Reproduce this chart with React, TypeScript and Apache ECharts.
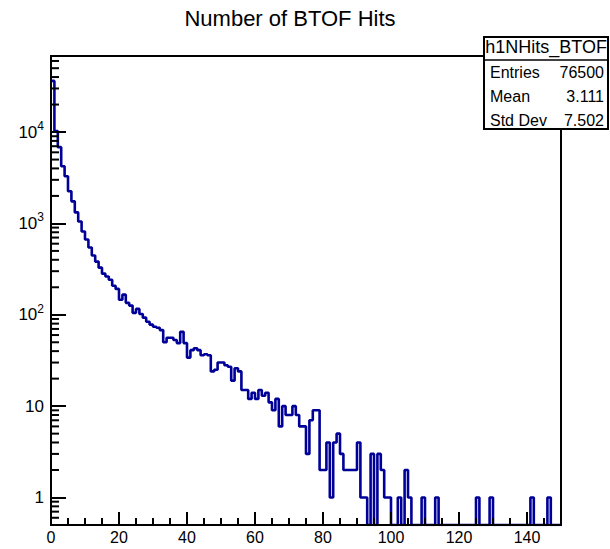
import React, { useEffect, useRef } from 'react';
import * as echarts from 'echarts';

const TITLE = 'Number of BTOF Hits';
const HIST_NAME = 'h1NHits_BTOF';
const STATS_LABELS = ['Entries', 'Mean', 'Std Dev'];
const STATS_VALUES = ['76500', '3.111', '7.502'];

const X_MIN = 0;
const X_MAX = 150;
const BIN_WIDTH = 1;
const Y_MIN = 0.5;
const Y_MAX = 68000;
const X_TICK_STEP = 20;
const X_MINOR_STEP = 5;
const Y_MINOR_BELOW_ONE = [0.6, 0.7, 0.8, 0.9];
const Y_MINOR_FACTORS = [2, 3, 4, 5, 6, 7, 8, 9];
const Y_DECADES = [1, 10, 100, 1000, 10000];

// counts per bin (bin i covers [i, i+1))
const COUNTS = [
  36300, 10250, 6840, 4230, 3280, 2250, 1745, 1320, 1050, 816,
  667, 545, 445, 382, 328, 282, 262, 242, 208, 192,
  146, 166, 135, 126, 105, 116, 102, 93, 84, 78,
  74, 72, 68, 50, 56, 56, 53, 49, 65, 49,
  34, 41, 43, 41, 36, 37, 36, 24, 25, 30,
  30, 28, 27, 19, 26, 24, 15, 15, 12, 14,
  12, 15, 13, 14, 11, 9, 12, 6, 10, 8,
  8, 10, 8, 6, 6, 3, 7, 9, 9, 2,
  2, 4, 1, 4, 5, 3, 2, 2, 2, 2,
  4, 1, 1, 0, 3, 0, 3, 2, 1, 1,
  0, 0, 1, 0, 2, 1, 0, 0, 0, 1,
  0, 0, 0, 1, 0, 0, 0, 0, 0, 0,
  0, 0, 0, 0, 0, 1, 0, 0, 0, 1,
  0, 0, 0, 0, 0, 0, 0, 0, 0, 0,
  0, 1, 0, 0, 0, 0, 1, 0, 0, 0,
];

const LINE_COLOR = '#000099';
const FONT = 'Liberation Sans, Arial, Helvetica, sans-serif';

export default function App() {
  const ref = useRef<HTMLDivElement>(null);

  useEffect(() => {
    if (!ref.current) return;
    const chart = echarts.init(ref.current, undefined, { renderer: 'svg' });

    const histData: number[][] = COUNTS.map((c, i) => [X_MIN + i * BIN_WIDTH, c > 0 ? c : Y_MIN]);
    const last = COUNTS[COUNTS.length - 1];
    histData.push([X_MIN + COUNTS.length * BIN_WIDTH, last > 0 ? last : Y_MIN]);

    const minorTicks: number[][] = [];
    for (let v = X_MIN + X_MINOR_STEP; v < X_MAX; v += X_MINOR_STEP) {
      if (v % X_TICK_STEP !== 0) minorTicks.push([v, Y_MIN, 0]);
    }
    Y_MINOR_BELOW_ONE.forEach((v) => minorTicks.push([X_MIN, v, 1]));
    Y_DECADES.forEach((d) => {
      Y_MINOR_FACTORS.forEach((f) => {
        const v = d * f;
        if (v < Y_MAX) minorTicks.push([X_MIN, v, 1]);
      });
    });

    const statsGraphics: any[] = [];
    const boxX = 484, boxY = 37, boxW = 124, boxH = 92;
    statsGraphics.push({
      type: 'rect', z: 100,
      shape: { x: boxX, y: boxY, width: boxW, height: boxH },
      style: { fill: '#fff', stroke: '#000', lineWidth: 2 },
    });
    statsGraphics.push({
      type: 'line', z: 101,
      shape: { x1: boxX, y1: 60, x2: boxX + boxW, y2: 60 },
      style: { stroke: '#000', lineWidth: 1.5 },
    });
    statsGraphics.push({
      type: 'text', z: 101, x: 607, y: 47,
      style: { text: HIST_NAME, fontSize: 18, fontFamily: FONT, fill: '#000', textAlign: 'right', textVerticalAlign: 'middle' },
    });
    STATS_LABELS.forEach((lab, i) => {
      const y = 72 + i * 24;
      statsGraphics.push({
        type: 'text', z: 101, x: 490, y,
        style: { text: lab, fontSize: 16, fontFamily: FONT, fill: '#000', textAlign: 'left', textVerticalAlign: 'middle' },
      });
      statsGraphics.push({
        type: 'text', z: 101, x: 604, y,
        style: { text: STATS_VALUES[i], fontSize: 16, fontFamily: FONT, fill: '#000', textAlign: 'right', textVerticalAlign: 'middle' },
      });
    });

    chart.setOption({
      animation: false,
      backgroundColor: '#fff',
      grid: {
        left: 51, right: 49, top: 56, bottom: 24,
        show: true, borderColor: '#000', borderWidth: 2, backgroundColor: 'transparent',
      },
      xAxis: {
        type: 'value', min: X_MIN, max: X_MAX, interval: X_TICK_STEP, z: 5,
        axisLine: { show: true, lineStyle: { color: '#000', width: 2 } },
        axisTick: { show: true, inside: true, length: 13, lineStyle: { color: '#000', width: 2 } },
        splitLine: { show: false },
        axisLabel: {
          color: '#000', fontSize: 16, fontFamily: FONT, margin: 4,
          showMaxLabel: false,
          formatter: (v: number) => (v % X_TICK_STEP === 0 && v < X_MAX ? String(v) : ''),
        },
      },
      yAxis: {
        type: 'log', logBase: 10, min: Y_MIN, max: Y_MAX, z: 5,
        axisLine: { show: true, lineStyle: { color: '#000', width: 2 } },
        axisTick: { show: true, inside: true, length: 15, lineStyle: { color: '#000', width: 2 } },
        splitLine: { show: false },
        axisLabel: {
          color: '#000', fontSize: 17, fontFamily: FONT, margin: 7,
          showMinLabel: false, showMaxLabel: false,
          formatter: (v: number) => {
            const e = Math.log10(v);
            const r = Math.round(e);
            if (Math.abs(e - r) > 1e-6) return '';
            if (r === 0) return '1';
            if (r === 1) return '10';
            return '{b|10}{s|' + r + '}';
          },
          rich: {
            b: { fontSize: 17, fontFamily: FONT, color: '#000', lineHeight: 24 },
            s: { fontSize: 12, fontFamily: FONT, color: '#000', lineHeight: 12, verticalAlign: 'top' },
          },
        },
      },
      graphic: [
        {
          type: 'text', x: 290, y: 18, z: 100,
          style: { text: TITLE, fontSize: 22, fontFamily: FONT, fill: '#000', textAlign: 'center', textVerticalAlign: 'middle' },
        },
        ...statsGraphics,
      ],
      series: [
        {
          type: 'line',
          data: histData,
          step: 'end',
          showSymbol: false,
          symbol: 'none',
          clip: true,
          z: 2,
          lineStyle: { color: LINE_COLOR, width: 2.6 },
          emphasis: { disabled: true },
        },
        {
          type: 'custom',
          data: minorTicks,
          clip: false,
          z: 6,
          silent: true,
          renderItem: (params: any, api: any) => {
            const kind = api.value(2);
            const p = api.coord([api.value(0), api.value(1)]);
            if (kind === 0) {
              return {
                type: 'line',
                shape: { x1: p[0], y1: p[1], x2: p[0], y2: p[1] - 7 },
                style: { stroke: '#000', lineWidth: 2 },
              };
            }
            return {
              type: 'line',
              shape: { x1: p[0], y1: p[1], x2: p[0] + 8, y2: p[1] },
              style: { stroke: '#000', lineWidth: 2 },
            };
          },
        },
      ],
    });

    return () => chart.dispose();
  }, []);

  return (
    <div
      ref={ref}
      style={{ position: 'fixed', left: 0, top: 0, width: 610, height: 549, background: '#fff' }}
    />
  );
}
